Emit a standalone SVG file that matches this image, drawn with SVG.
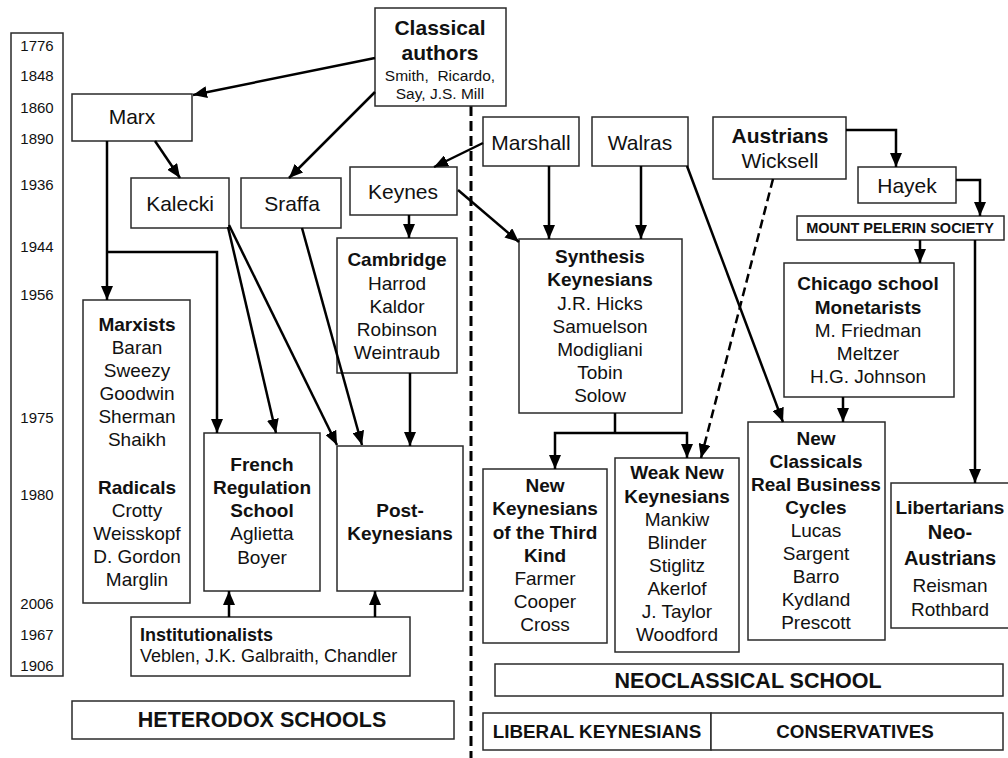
<svg xmlns="http://www.w3.org/2000/svg" width="1008" height="758" viewBox="0 0 1008 758">
<style>
.b{fill:#fff;stroke:#2a2a2a;stroke-width:1.5}
text{font-family:"Liberation Sans",Arial,sans-serif;fill:#111;text-anchor:middle;dominant-baseline:central}
.r{font-size:19px}
.bd{font-size:19px;font-weight:bold}
.n{font-size:21px}
.y{font-size:15px}
.c{fill:none;stroke:#000;stroke-width:2.5;marker-end:url(#ah)}
.cn{fill:none;stroke:#000;stroke-width:2.5}
</style>
<defs>
<marker id="ah" markerWidth="14" markerHeight="12" refX="14" refY="6" orient="auto" markerUnits="userSpaceOnUse"><path d="M0,0 L14,6 L0,12 z" fill="#000"/></marker>
</defs>
<g id="timeline">
<rect class="b" x="11" y="33" width="52" height="643"/>
<g class="y"><text x="37" y="45">1776</text><text x="37" y="75">1848</text><text x="37" y="107">1860</text><text x="37" y="138">1890</text><text x="37" y="184">1936</text><text x="37" y="246">1944</text><text x="37" y="294">1956</text><text x="37" y="417">1975</text><text x="37" y="494">1980</text><text x="37" y="603">2006</text><text x="37" y="634">1967</text><text x="37" y="665">1906</text></g>
</g>
<line x1="471" y1="106" x2="471" y2="758" stroke="#000" stroke-width="3" stroke-dasharray="10 5"/>
<g id="classical"><rect class="b" x="375" y="8" width="131" height="98"/>
<text x="440" y="27" style="font-size:21px;font-weight:bold">Classical</text><text x="440" y="52" style="font-size:21px;font-weight:bold">authors</text>
<text x="440" y="75" style="font-size:15.5px">Smith,&#160; Ricardo,</text><text x="440" y="93" style="font-size:15.5px">Say, J.S. Mill</text></g>
<g id="marx"><rect class="b" x="72" y="94" width="120" height="47"/><text class="n" x="132" y="116">Marx</text></g>
<g id="kalecki"><rect class="b" x="131" y="178" width="98" height="50"/><text class="n" x="180" y="203">Kalecki</text></g>
<g id="sraffa"><rect class="b" x="241" y="178" width="100" height="50"/><text class="n" x="292" y="203">Sraffa</text></g>
<g id="keynes"><rect class="b" x="350" y="167" width="107" height="48"/><text class="n" x="403" y="191">Keynes</text></g>
<g id="cambridge"><rect class="b" x="337" y="238" width="120" height="135"/>
<text class="bd" x="397" y="259">Cambridge</text><text class="r" x="397" y="283">Harrod</text><text class="r" x="397" y="306">Kaldor</text><text class="r" x="397" y="329">Robinson</text><text class="r" x="397" y="352">Weintraub</text></g>
<g id="marxists"><rect class="b" x="83" y="300" width="107" height="303"/>
<text class="bd" x="137" y="324">Marxists</text><text class="r" x="137" y="347">Baran</text><text class="r" x="137" y="370">Sweezy</text><text class="r" x="137" y="393">Goodwin</text><text class="r" x="137" y="416">Sherman</text><text class="r" x="137" y="439">Shaikh</text>
<text class="bd" x="137" y="487">Radicals</text><text class="r" x="137" y="510">Crotty</text><text class="r" x="137" y="533">Weisskopf</text><text class="r" x="137" y="556">D. Gordon</text><text class="r" x="137" y="579">Marglin</text></g>
<g id="french"><rect class="b" x="204" y="433" width="116" height="158"/>
<text class="bd" x="262" y="464">French</text><text class="bd" x="262" y="487">Regulation</text><text class="bd" x="262" y="510">School</text><text class="r" x="262" y="533">Aglietta</text><text class="r" x="262" y="557">Boyer</text></g>
<g id="postkeynesians"><rect class="b" x="337" y="446" width="126" height="145"/>
<text class="bd" x="400" y="510">Post-</text><text class="bd" x="400" y="533">Keynesians</text></g>
<g id="institutionalists"><rect class="b" x="131" y="617" width="279" height="59"/>
<text x="140" y="635" style="font-size:18px;font-weight:bold;text-anchor:start">Institutionalists</text>
<text x="140" y="656" style="font-size:18px;text-anchor:start">Veblen, J.K. Galbraith, Chandler</text></g>
<g id="heterodox"><rect class="b" x="72" y="701" width="382" height="38"/><text x="262" y="720" style="font-size:21.5px;font-weight:bold">HETERODOX SCHOOLS</text></g>
<g id="marshall"><rect class="b" x="483" y="117" width="96" height="49"/><text class="n" x="531" y="142">Marshall</text></g>
<g id="walras"><rect class="b" x="592" y="117" width="96" height="49"/><text class="n" x="640" y="142">Walras</text></g>
<g id="austrians"><rect class="b" x="713" y="117" width="133" height="62"/>
<text class="n" x="780" y="135" style="font-weight:bold">Austrians</text><text class="n" x="780" y="160">Wicksell</text></g>
<g id="hayek"><rect class="b" x="858" y="167" width="98" height="36"/><text class="n" x="907" y="185">Hayek</text></g>
<g id="mps"><rect class="b" x="797" y="216" width="207" height="24"/><text x="900" y="228" style="font-size:14.5px;font-weight:bold">MOUNT PELERIN SOCIETY</text></g>
<g id="synthesis"><rect class="b" x="519" y="239" width="163" height="174"/>
<text class="bd" x="600" y="256">Synthesis</text><text class="bd" x="600" y="279">Keynesians</text><text class="r" x="600" y="303">J.R. Hicks</text><text class="r" x="600" y="326">Samuelson</text><text class="r" x="600" y="349">Modigliani</text><text class="r" x="600" y="372">Tobin</text><text class="r" x="600" y="395">Solow</text></g>
<g id="chicago"><rect class="b" x="784" y="263" width="170" height="134"/>
<text class="bd" x="868" y="283">Chicago school</text><text class="bd" x="868" y="307">Monetarists</text><text class="r" x="868" y="330">M. Friedman</text><text class="r" x="868" y="353">Meltzer</text><text class="r" x="868" y="376">H.G. Johnson</text></g>
<g id="newclassicals"><rect class="b" x="748" y="422" width="137" height="218"/>
<text class="bd" x="816" y="438">New</text><text class="bd" x="816" y="461">Classicals</text><text class="bd" x="816" y="484">Real Business</text><text class="bd" x="816" y="507">Cycles</text>
<text class="r" x="816" y="530">Lucas</text><text class="r" x="816" y="553">Sargent</text><text class="r" x="816" y="576">Barro</text><text class="r" x="816" y="599">Kydland</text><text class="r" x="816" y="622">Prescott</text></g>
<g id="libertarians"><rect class="b" x="891" y="483" width="125" height="145"/>
<text class="bd" x="950" y="507">Libertarians</text><text class="bd" x="950" y="532" style="font-size:20px">Neo-</text><text class="bd" x="950" y="558" style="font-size:20px">Austrians</text><text class="r" x="950" y="585">Reisman</text><text class="r" x="950" y="609">Rothbard</text></g>
<g id="weaknk"><rect class="b" x="615" y="458" width="124" height="194"/>
<text class="bd" x="677" y="472">Weak New</text><text class="bd" x="677" y="496">Keynesians</text><text class="r" x="677" y="519">Mankiw</text><text class="r" x="677" y="542">Blinder</text><text class="r" x="677" y="565">Stiglitz</text><text class="r" x="677" y="588">Akerlof</text><text class="r" x="677" y="611">J. Taylor</text><text class="r" x="677" y="634">Woodford</text></g>
<g id="nk3"><rect class="b" x="483" y="469" width="124" height="174"/>
<text class="bd" x="545" y="485">New</text><text class="bd" x="545" y="508">Keynesians</text><text class="bd" x="545" y="532">of the Third</text><text class="bd" x="545" y="555">Kind</text><text class="r" x="545" y="578">Farmer</text><text class="r" x="545" y="601">Cooper</text><text class="r" x="545" y="624">Cross</text></g>
<g id="neoclassical"><rect class="b" x="495" y="664" width="508" height="32"/><text x="748" y="681" style="font-size:21.5px;font-weight:bold">NEOCLASSICAL SCHOOL</text></g>
<g id="liberal"><rect class="b" x="483" y="713" width="228" height="37"/><text x="597" y="731" style="font-size:18.8px;font-weight:bold">LIBERAL KEYNESIANS</text></g>
<g id="conservatives"><rect class="b" x="711" y="713" width="292" height="37"/><text x="855" y="731" style="font-size:18.8px;font-weight:bold">CONSERVATIVES</text></g>
<g id="connectors">
<path class="c" d="M375,58 L193,95"/>
<path class="c" d="M375,92 L289,178"/>
<path class="c" d="M155,141 L180,178"/>
<path class="c" d="M107,141 L107,300"/>
<path class="c" d="M107,252 L217,252 L217,433"/>
<path class="c" d="M228,227 L276,433"/>
<path class="c" d="M229,225 L337,445"/>
<path class="c" d="M302,228 L362,445"/>
<path class="c" d="M409,215 L409,238"/>
<path class="c" d="M410,373 L410,446"/>
<path class="c" d="M483,143 L434,167"/>
<path class="c" d="M458,190 L519,242"/>
<path class="c" d="M549,166 L549,239"/>
<path class="c" d="M641,166 L641,239"/>
<path class="c" d="M687,166 L783,422"/>
<path class="c" d="M773,179 L701,458" stroke-dasharray="9 5"/>
<path class="c" d="M846,130 L896,130 L896,167"/>
<path class="c" d="M956,180 L980,180 L980,216"/>
<path class="c" d="M920,240 L920,263"/>
<path class="c" d="M975,240 L975,483"/>
<path class="c" d="M843,397 L843,422"/>
<path class="cn" d="M615,413 L615,433"/>
<path class="c" d="M615,433 L555,433 L555,469"/>
<path class="c" d="M615,433 L687,433 L687,458"/>
<path class="c" d="M229,617 L229,591"/>
<path class="c" d="M375,617 L375,591"/>
</g>
</svg>
